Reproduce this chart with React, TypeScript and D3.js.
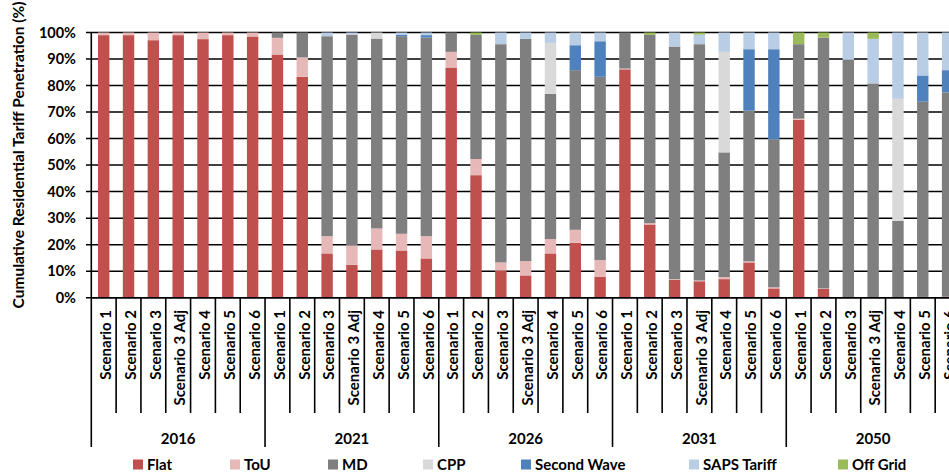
import React from "react";
import * as d3 from "d3";

const years = ["2016", "2021", "2026", "2031", "2050"];
const scenarios = ["Scenario 1", "Scenario 2", "Scenario 3", "Scenario 3 Adj", "Scenario 4", "Scenario 5", "Scenario 6"];
const seriesNames = ["Flat", "ToU", "MD", "CPP", "Second Wave", "SAPS Tariff", "Off Grid"];
const seriesColors = ["#C0504D", "#E6B9B8", "#7F7F7F", "#D9D9D9", "#4F81BD", "#B9CDE5", "#9BBB59"];
const yTicks = [0, 10, 20, 30, 40, 50, 60, 70, 80, 90, 100];

const flat = [
  99, 99, 97.1, 99, 97.5, 99, 98.5,
  91.7, 83.3, 16.7, 12.4, 18.2, 17.8, 14.8,
  86.8, 46.2, 10.3, 8.4, 16.7, 20.7, 7.8,
  86.1, 27.6, 6.7, 6.2, 7.0, 13.3, 3.5,
  67.1, 3.3, 0, 0, 0, 0.3, 0.4,
];
const tou = [
  1, 1, 2.9, 1, 2.5, 1, 1.5,
  6.3, 7.3, 6.5, 7.3, 7.9, 6.3, 8.4,
  5.9, 6.1, 3.0, 5.4, 5.4, 4.9, 6.4,
  0.3, 0.5, 0.3, 0.3, 0.8, 0.4, 0.4,
  0.4, 0.2, 0, 0, 0, 0, 0,
];
const md = [
  0, 0, 0, 0, 0, 0, 0,
  2.0, 9.4, 75.4, 79.5, 71.6, 74.5, 74.9,
  7.3, 46.8, 82.3, 83.8, 54.8, 60.2, 69.1,
  13.6, 71.0, 87.7, 89.1, 47.0, 56.8, 55.8,
  28.1, 94.6, 89.7, 80.8, 29.0, 73.6, 77.0,
];
const cpp = [
  0, 0, 0, 0, 0, 0, 0,
  0, 0, 0, 0, 2.3, 0, 0,
  0, 0, 0, 0, 19.2, 0, 0,
  0, 0, 0, 0, 37.9, 0, 0,
  0, 0, 0, 0, 46.0, 0, 0,
];
const secondWave = [
  0, 0, 0, 0, 0, 0, 0,
  0, 0, 0, 0, 0, 0.6, 0.9,
  0, 0, 0, 0, 0, 9.4, 13.4,
  0, 0, 0, 0, 0, 23.2, 34.0,
  0, 0, 0, 0, 0, 9.9, 8.4,
];
const saps = [
  0, 0, 0, 0, 0, 0, 0,
  0, 0, 1.4, 0.8, 0, 0.8, 1.0,
  0, 0, 4.4, 2.4, 3.9, 4.8, 3.3,
  0, 0, 5.3, 3.6, 7.3, 6.3, 6.3,
  0, 0, 10.3, 16.8, 25.0, 16.2, 14.2,
];
const offGrid = [
  0, 0, 0, 0, 0, 0, 0,
  0, 0, 0, 0, 0, 0, 0,
  0, 0.9, 0, 0, 0, 0, 0,
  0, 0.9, 0, 0.8, 0, 0, 0,
  4.4, 1.9, 0, 2.4, 0, 0, 0,
];

const seriesValues = [flat, tou, md, cpp, secondWave, saps, offGrid];

const W = 949;
const H = 475;
const left = 91.3;
const right = 960;
const top = 32.5;
const bottom = 297.7;
const FONT = "Lato, 'Open Sans', sans-serif";

export default function App() {
  const cats = years.flatMap((y) => scenarios.map((s) => `${y}|${s}`));
  const rows = cats.map((c, i) => {
    const r: Record<string, number | string> = { cat: c };
    seriesNames.forEach((n, k) => (r[n] = seriesValues[k][i]));
    return r;
  });
  const stacked = d3.stack<any>().keys(seriesNames)(rows);

  const x = d3.scaleBand<string>().domain(cats).range([left, right]).padding(0);
  const y = d3.scaleLinear().domain([0, 100]).range([bottom, top]);
  const bw = x.bandwidth();
  const barW = bw * 0.46;

  const groupX = (gi: number) => left + gi * 7 * bw;

  return (
    <svg width={W} height={H} style={{ position: "absolute", left: 0, top: 0, background: "#fff" }} fontFamily={FONT}>
      <rect x={0} y={0} width={W} height={H} fill="#fff" />
      {yTicks.map((t) => (
        <line key={t} x1={86} x2={W} y1={y(t)} y2={y(t)} stroke="#000" strokeWidth={1.5} />
      ))}
      {stacked.map((s, k) => (
        <g key={s.key} fill={seriesColors[k]}>
          {s.map((d, i) => {
            const h = y(d[0]) - y(d[1]);
            if (h <= 0) return null;
            return (
              <rect key={i} x={(x(cats[i]) as number) + (bw - barW) / 2} y={y(d[1])} width={barW} height={h} />
            );
          })}
        </g>
      ))}
      <line x1={left} x2={left} y1={top} y2={bottom} stroke="#000" strokeWidth={1.6} />
      {yTicks.map((t) => (
        <text key={t} x={76} y={y(t)} dy="0.35em" textAnchor="end" fontSize={14.5} fontWeight="bold" fill="#000">
          {t}%
        </text>
      ))}
      <text
        transform={`translate(19,155) rotate(-90)`}
        textAnchor="middle"
        dy="0.35em"
        fontSize={15.5}
        fontWeight="bold"
        fill="#000"
      >
        Cumulative Residential Tariff Penetration (%)
      </text>
      <line x1={left} x2={W} y1={bottom} y2={bottom} stroke="#000" strokeWidth={1.6} />
      {cats.map((c, i) => {
        const bx = x(c) as number;
        return (
          <line key={"t" + i} x1={bx} x2={bx} y1={bottom} y2={i % 7 === 0 ? 447 : 413} stroke="#000" strokeWidth={1.6} />
        );
      })}
      <line x1={right} x2={right} y1={bottom} y2={447} stroke="#000" strokeWidth={1.6} />
      {cats.map((c, i) => {
        const cx = (x(c) as number) + bw / 2 + 2;
        return (
          <text
            key={"l" + i}
            transform={`translate(${cx},310) rotate(-90)`}
            textAnchor="end"
            dy="0.35em"
            fontSize={15}
            fontWeight="bold"
            fill="#000"
          >
            {c.split("|")[1]}
          </text>
        );
      })}
      {years.map((yr, gi) => (
        <text key={yr} x={groupX(gi) + 3.5 * bw} y={444} textAnchor="middle" fontSize={15} fontWeight="bold" fill="#000">
          {yr}
        </text>
      ))}
      {[133, 230, 328, 423, 521, 689, 838].map((lx, k) => (
        <g key={seriesNames[k]}>
          <rect x={lx} y={459.5} width={10} height={10} fill={seriesColors[k]} />
          <text x={lx + 14} y={470} fontSize={15} fontWeight="bold" fill="#000">
            {seriesNames[k]}
          </text>
        </g>
      ))}
    </svg>
  );
}
